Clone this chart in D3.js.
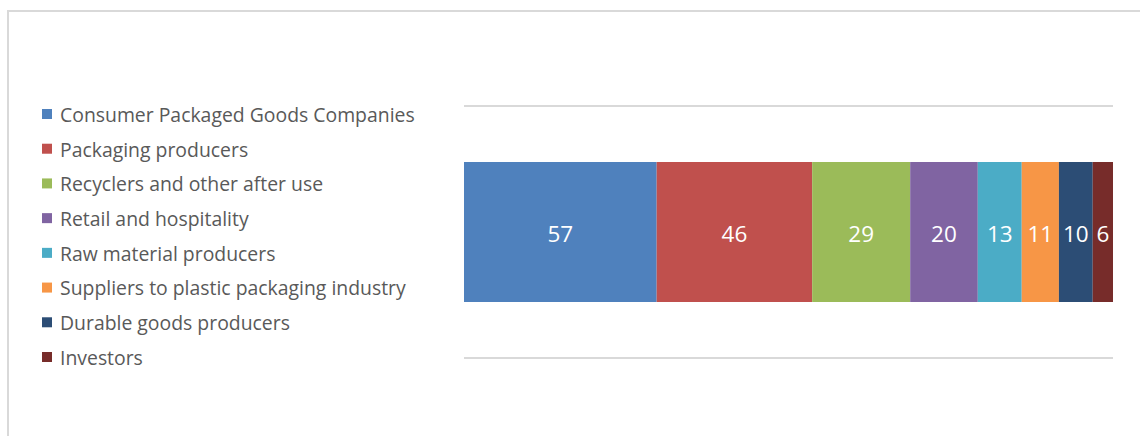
<!DOCTYPE html>
<html>
<head>
<meta charset="utf-8">
<script src="https://cdn.jsdelivr.net/npm/d3@7"></script>
<style>
  html, body { margin: 0; padding: 0; background: #fff; }
  svg { display: block; }
</style>
</head>
<body>
<svg id="chart" width="1140" height="436"></svg>
<script>
// data
const categories = [
  "Consumer Packaged Goods Companies",
  "Packaging producers",
  "Recyclers and other after use",
  "Retail and hospitality",
  "Raw material producers",
  "Suppliers to plastic packaging industry",
  "Durable goods producers",
  "Investors"
];
const values = [57, 46, 29, 20, 13, 11, 10, 6];
const colors = ["#4f81bd", "#c0504d", "#9bbb59", "#8064a2", "#4bacc6", "#f79646", "#2c4d75", "#772c2a"];

const W = 1140, H = 436;
const svg = d3.select("#chart");
const FONT = "'Open Sans', 'Noto Sans', sans-serif";

// chart frame
svg.append("rect")
  .attr("x", 8).attr("y", 11)
  .attr("width", W + 20).attr("height", H + 20)
  .attr("fill", "#fff")
  .attr("stroke", "#d9d9d9")
  .attr("stroke-width", 2);

// stack the single bar
let acc = 0;
const segs = values.map((v, i) => {
  const s = {cat: categories[i], v: v, x0: acc, x1: acc + v, color: colors[i]};
  acc += v;
  return s;
});

const x = d3.scaleLinear().domain([0, acc]).range([464, 1113]);
const y = d3.scaleBand().domain(["all"]).range([106, 358]).paddingInner(0).paddingOuter(0.4);

// horizontal gridlines at the plot edges
svg.append("g")
  .selectAll("line")
  .data(y.range())
  .join("line")
  .attr("x1", x.range()[0]).attr("x2", x.range()[1])
  .attr("y1", d => d).attr("y2", d => d)
  .attr("stroke", "#d9d9d9")
  .attr("stroke-width", 2);

// bar segments
svg.append("g")
  .selectAll("rect")
  .data(segs)
  .join("rect")
  .attr("x", d => x(d.x0))
  .attr("y", y("all"))
  .attr("width", d => x(d.x1) - x(d.x0))
  .attr("height", y.bandwidth())
  .attr("fill", d => d.color);

// value labels
svg.append("g")
  .selectAll("text")
  .data(segs)
  .join("text")
  .attr("x", d => (x(d.x0) + x(d.x1)) / 2)
  .attr("y", y("all") + y.bandwidth() / 2 + 2)
  .attr("dy", "0.35em")
  .attr("text-anchor", "middle")
  .attr("font-family", FONT)
  .attr("font-size", 22.5)
  .attr("fill", "#fff")
  .text(d => d.v);

// legend
const ly = d3.scalePoint().domain(categories).range([114, 357]);
const legend = svg.append("g")
  .selectAll("g")
  .data(segs)
  .join("g")
  .attr("transform", d => `translate(42, ${ly(d.cat)})`);

legend.append("rect")
  .attr("x", 0).attr("y", -5)
  .attr("width", 10).attr("height", 10)
  .attr("fill", d => d.color);

legend.append("text")
  .attr("x", 18)
  .attr("y", 1)
  .attr("dy", "0.35em")
  .attr("font-family", FONT)
  .attr("font-size", 19.4)
  .attr("fill", "#595959")
  .text(d => d.cat);
</script>
</body>
</html>
